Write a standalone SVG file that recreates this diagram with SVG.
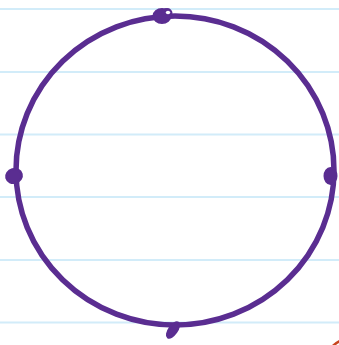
<svg xmlns="http://www.w3.org/2000/svg" width="339" height="345" viewBox="0 0 339 345">
<style>
.rule{stroke:#d2ecf9;stroke-width:2}
.ring{fill:none;stroke:#5a2d91;stroke-width:5.5;stroke-linecap:round}
.knot{fill:#5a2d91;stroke:#5a2d91;stroke-width:2}
</style>
<rect width="339" height="345" fill="#ffffff"/>
<g id="paper">
<line class="rule" x1="0" y1="9" x2="339" y2="9"/>
<line class="rule" x1="0" y1="72" x2="339" y2="72"/>
<line class="rule" x1="0" y1="134.5" x2="339" y2="134.5"/>
<line class="rule" x1="0" y1="197" x2="339" y2="197"/>
<line class="rule" x1="0" y1="260" x2="339" y2="260"/>
<line class="rule" x1="0" y1="322.5" x2="339" y2="322.5"/>
</g>
<g id="circle">
<ellipse class="ring" cx="175" cy="170.5" rx="159" ry="154.5"/>
</g>
<g id="knots">
<g id="knot-top"><ellipse class="knot" cx="162" cy="16" rx="8.5" ry="7"/><ellipse class="knot" cx="167" cy="13" rx="4.5" ry="4"/><ellipse cx="168" cy="12.5" rx="2.2" ry="1.8" fill="#ffffff"/></g>
<g id="knot-left"><ellipse class="knot" cx="14" cy="176" rx="8" ry="7" transform="rotate(-15 14 176)"/></g>
<g id="knot-right"><ellipse class="knot" cx="330.5" cy="176" rx="6" ry="8"/></g>
<g id="knot-bottom"><ellipse class="knot" cx="173" cy="330" rx="4" ry="9" transform="rotate(35 173 330)"/></g>
</g>
<path d="M332 345 Q335 342 339 340 L339 343 Q337 344 336 345 Z" fill="#c8461e"/>
</svg>
